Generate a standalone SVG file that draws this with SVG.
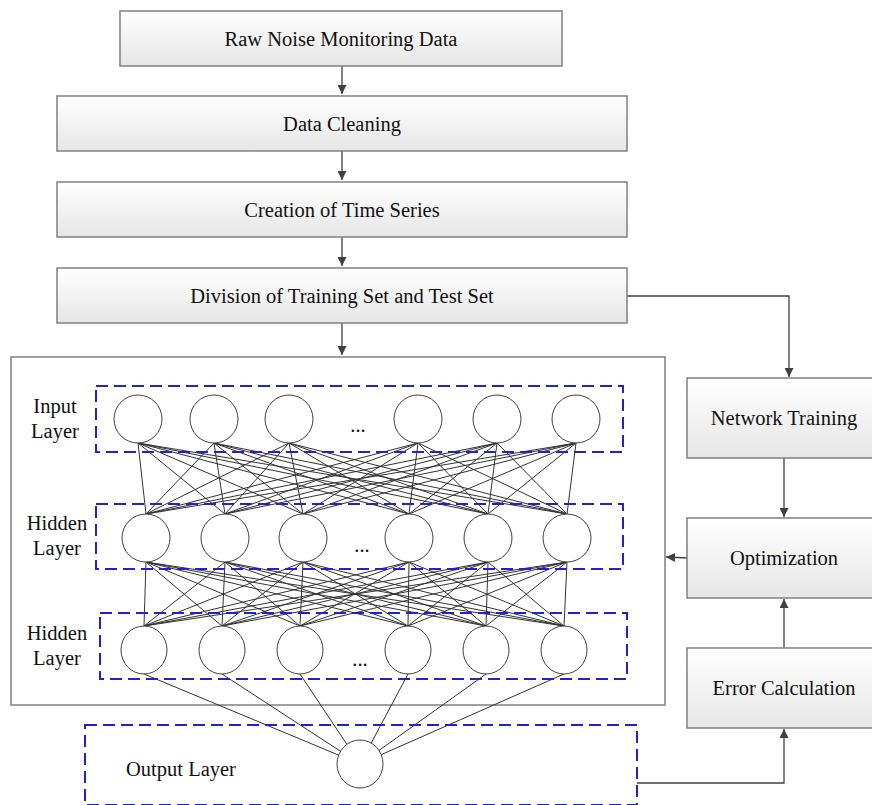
<svg xmlns="http://www.w3.org/2000/svg" width="872" height="805" viewBox="0 0 872 805">
<defs>
<linearGradient id="g" x1="0" y1="0" x2="0" y2="1">
<stop offset="0" stop-color="#ffffff"/>
<stop offset="1" stop-color="#e6e6e6"/>
</linearGradient>
<marker id="arr" viewBox="0 0 10 10" refX="10" refY="5" markerWidth="9" markerHeight="9" markerUnits="userSpaceOnUse" orient="auto">
<path d="M0,0 L10,5 L0,10 z" fill="#404040"/>
</marker>
</defs>
<style>
.box{fill:url(#g);stroke:#808080;stroke-width:1.5}
.t{font-family:"Liberation Serif","Times New Roman",serif;font-size:20.5px;fill:#111;text-anchor:middle}
.lbl{font-family:"Liberation Serif","Times New Roman",serif;font-size:20.5px;fill:#111;text-anchor:middle}
.dash{fill:none;stroke:#2222cc;stroke-width:2;stroke-dasharray:12,6}
.node{fill:#fff;stroke:#404040;stroke-width:1}
.conn{fill:none;stroke:#404040;stroke-width:1.3}
.net{fill:none;stroke:#333;stroke-width:1}
</style>
<rect width="872" height="805" fill="#fff"/>

<g id="connectors">
<path class="conn" d="M342 66V94" marker-end="url(#arr)"/>
<path class="conn" d="M342 151V180" marker-end="url(#arr)"/>
<path class="conn" d="M342 237V266" marker-end="url(#arr)"/>
<path class="conn" d="M342 323V355" marker-end="url(#arr)"/>
<path class="conn" d="M627 296H789V377" marker-end="url(#arr)"/>
<path class="conn" d="M784 458V517" marker-end="url(#arr)"/>
<path class="conn" d="M688 558L666 557" marker-end="url(#arr)"/>
<path class="conn" d="M784 648V599" marker-end="url(#arr)"/>
<path class="conn" d="M637 783H784V729" marker-end="url(#arr)"/>
</g>

<g id="nn-box">
<rect x="11" y="357" width="654" height="348" fill="none" stroke="#808080" stroke-width="1.5"/>
</g>

<g id="network-lines">
<path class="net" d="M138 443L146 514M138 443L225 514M138 443L303 514M138 443L409 514M138 443L488 514M138 443L567 514
M214 443L146 514M214 443L225 514M214 443L303 514M214 443L409 514M214 443L488 514M214 443L567 514
M289 443L146 514M289 443L225 514M289 443L303 514M289 443L409 514M289 443L488 514M289 443L567 514
M418 443L146 514M418 443L225 514M418 443L303 514M418 443L409 514M418 443L488 514M418 443L567 514
M497 443L146 514M497 443L225 514M497 443L303 514M497 443L409 514M497 443L488 514M497 443L567 514
M576 443L146 514M576 443L225 514M576 443L303 514M576 443L409 514M576 443L488 514M576 443L567 514"/>
<path class="net" d="M146 562L144 626M146 562L222 626M146 562L300 626M146 562L408 626M146 562L486 626M146 562L564 626
M225 562L144 626M225 562L222 626M225 562L300 626M225 562L408 626M225 562L486 626M225 562L564 626
M303 562L144 626M303 562L222 626M303 562L300 626M303 562L408 626M303 562L486 626M303 562L564 626
M409 562L144 626M409 562L222 626M409 562L300 626M409 562L408 626M409 562L486 626M409 562L564 626
M488 562L144 626M488 562L222 626M488 562L300 626M488 562L408 626M488 562L486 626M488 562L564 626
M567 562L144 626M567 562L222 626M567 562L300 626M567 562L408 626M567 562L486 626M567 562L564 626"/>
<path class="net" d="M144 674L360 764M222 674L360 764M300 674L360 764M408 674L360 764M486 674L360 764M564 674L360 764"/>
</g>

<g id="raw-data"><rect class="box" x="120" y="11" width="442" height="55"/><text class="t" x="341" y="46">Raw Noise Monitoring Data</text></g>
<g id="data-cleaning"><rect class="box" x="57" y="96" width="570" height="55"/><text class="t" x="342" y="131">Data Cleaning</text></g>
<g id="time-series"><rect class="box" x="57" y="182" width="570" height="55"/><text class="t" x="342" y="217">Creation of Time Series</text></g>
<g id="division"><rect class="box" x="57" y="268" width="570" height="55"/><text class="t" x="342" y="303">Division of Training Set and Test Set</text></g>

<g id="network-training"><rect class="box" x="687" y="378" width="194" height="80"/><text class="t" x="784" y="425">Network Training</text></g>
<g id="optimization"><rect class="box" x="687" y="518" width="194" height="80"/><text class="t" x="784" y="565">Optimization</text></g>
<g id="error-calculation"><rect class="box" x="687" y="648" width="194" height="80"/><text class="t" x="784" y="695">Error Calculation</text></g>

<g id="input-layer">
<rect class="dash" x="96" y="386" width="527" height="66"/>
<text class="lbl" x="55" y="413">Input</text><text class="lbl" x="55" y="438">Layer</text>
<circle class="node" cx="138" cy="419" r="24"/><circle class="node" cx="214" cy="419" r="24"/><circle class="node" cx="289" cy="419" r="24"/>
<circle class="node" cx="418" cy="419" r="24"/><circle class="node" cx="497" cy="419" r="24"/><circle class="node" cx="576" cy="419" r="24"/>
<text class="lbl" x="358" y="432">...</text>
</g>

<g id="hidden-layer-1">
<rect class="dash" x="96" y="504" width="527" height="65"/>
<text class="lbl" x="57" y="530">Hidden</text><text class="lbl" x="57" y="555">Layer</text>
<circle class="node" cx="146" cy="538" r="24"/><circle class="node" cx="225" cy="538" r="24"/><circle class="node" cx="303" cy="538" r="24"/>
<circle class="node" cx="409" cy="538" r="24"/><circle class="node" cx="488" cy="538" r="24"/><circle class="node" cx="567" cy="538" r="24"/>
<text class="lbl" x="362" y="552">...</text>
</g>

<g id="hidden-layer-2">
<rect class="dash" x="100" y="613" width="527" height="66"/>
<text class="lbl" x="57" y="640">Hidden</text><text class="lbl" x="57" y="665">Layer</text>
<ellipse class="node" cx="144" cy="650" rx="23" ry="24"/><ellipse class="node" cx="222" cy="650" rx="23" ry="24"/><ellipse class="node" cx="300" cy="650" rx="23" ry="24"/>
<ellipse class="node" cx="408" cy="650" rx="23" ry="24"/><ellipse class="node" cx="486" cy="650" rx="23" ry="24"/><ellipse class="node" cx="564" cy="650" rx="23" ry="24"/>
<text class="lbl" x="360" y="666">...</text>
</g>

<g id="output-layer">
<rect class="dash" x="85" y="725" width="552" height="80"/>
<text class="lbl" x="181" y="776">Output Layer</text>
<ellipse class="node" cx="360" cy="764" rx="23" ry="24"/>
</g>
</svg>
